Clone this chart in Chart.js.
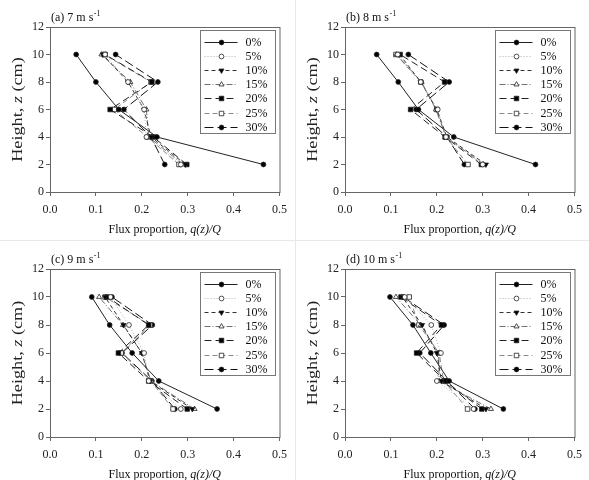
<!DOCTYPE html>
<html>
<head>
<meta charset="utf-8">
<script src="https://cdn.jsdelivr.net/npm/chart.js@4.4.0/dist/chart.umd.min.js"></script>
<style>
  body { margin: 0; background: #fff; }
  #wrap { position: relative; width: 589px; height: 480px; overflow: hidden; }
  .panel { position: absolute; width: 294px; height: 240px; }
  canvas { display: block; }
  .vline { position: absolute; left: 295px; top: 0; width: 1px; height: 480px; background: #e8e8e8; }
  .hline { position: absolute; left: 0; top: 240px; width: 589px; height: 1px; background: #e8e8e8; }
</style>
</head>
<body>
<div id="wrap">
  <div class="panel" style="left:0;top:0"><canvas id="chartA" width="294" height="240"></canvas></div>
  <div class="panel" style="left:295px;top:0"><canvas id="chartB" width="294" height="240"></canvas></div>
  <div class="panel" style="left:0;top:240px"><canvas id="chartC" width="294" height="240"></canvas></div>
  <div class="panel" style="left:295px;top:240px"><canvas id="chartD" width="294" height="240"></canvas></div>
  <div class="vline"></div>
  <div class="hline"></div>
</div>
<script>
'use strict';

// data
let heights = [2, 4, 6, 8, 10];
let seriesLabels = ['0%', '5%', '10%', '15%', '20%', '25%', '30%'];
let xTickLabels = ['0.0', '0.1', '0.2', '0.3', '0.4', '0.5'];
let yTickLabels = ['0', '2', '4', '6', '8', '10', '12'];
let panelLetters = ['(a)', '(b)', '(c)', '(d)'];
let windSpeeds = [7, 8, 9, 10];

// flux proportion q(z)/Q, one row per series, values for z = 2,4,6,8,10
let fluxA = [
  [0.465, 0.233, 0.150, 0.100, 0.057],
  [0.285, 0.210, 0.205, 0.170, 0.120],
  [0.295, 0.220, 0.205, 0.170, 0.115],
  [0.290, 0.215, 0.210, 0.175, 0.112],
  [0.298, 0.225, 0.131, 0.222, 0.120],
  [0.281, 0.212, 0.140, 0.220, 0.118],
  [0.250, 0.220, 0.161, 0.235, 0.143]
];
let fluxB = [
  [0.415, 0.237, 0.160, 0.116, 0.069],
  [0.300, 0.220, 0.202, 0.165, 0.115],
  [0.307, 0.222, 0.200, 0.165, 0.119],
  [0.302, 0.220, 0.198, 0.167, 0.112],
  [0.297, 0.218, 0.143, 0.217, 0.120],
  [0.268, 0.220, 0.200, 0.165, 0.111],
  [0.260, 0.222, 0.155, 0.227, 0.138]
];
let fluxC = [
  [0.364, 0.237, 0.179, 0.130, 0.091],
  [0.285, 0.215, 0.205, 0.172, 0.132],
  [0.310, 0.218, 0.200, 0.160, 0.120],
  [0.315, 0.220, 0.200, 0.159, 0.107],
  [0.299, 0.215, 0.149, 0.215, 0.125],
  [0.268, 0.220, 0.155, 0.218, 0.120],
  [0.272, 0.222, 0.157, 0.223, 0.135]
];
let fluxD = [
  [0.345, 0.227, 0.187, 0.148, 0.098],
  [0.280, 0.200, 0.209, 0.188, 0.130],
  [0.307, 0.210, 0.200, 0.168, 0.125],
  [0.318, 0.205, 0.204, 0.165, 0.111],
  [0.298, 0.218, 0.156, 0.210, 0.122],
  [0.267, 0.215, 0.205, 0.161, 0.140],
  [0.283, 0.222, 0.163, 0.216, 0.127]
];

// styles
let serif = "'Liberation Serif', 'Times New Roman', serif";
let lineColors = ['#222', '#b0b0b0', '#333', '#707070', '#222', '#8a8a8a', '#111'];
let lineDashes = [[], [1, 2], [4, 3], [6, 2, 1, 2], [7, 4], [5, 3], [9, 4]];
let markerStyles = ['circle', 'circle', 'triangle', 'triangle', 'rect', 'rect', 'circle'];
let markerRotation = [0, 0, 180, 0, 0, 0, 0];
let markerFill = ['#000', '#fff', '#000', '#fff', '#000', '#fff', '#000'];
let markerSize = [2.4, 2.4, 2.9, 2.9, 3.2, 3.2, 2.4];

//helper: draw a run of text pieces (some italic) centered at 0,0
function drawMixed(ctx, parts, size) {
  let total = 0;
  for (let p of parts) {
    ctx.font = (p.it ? 'italic ' : '') + size + 'px ' + serif;
    p.w = ctx.measureText(p.t).width;
    total += p.w;
  }
  let x = -total / 2;
  for (let p of parts) {
    ctx.font = (p.it ? 'italic ' : '') + size + 'px ' + serif;
    ctx.fillText(p.t, x, 0);
    x += p.w;
  }
}

let panelDecor = {
  id: 'panelDecor',
  afterDraw(chart, args, opts) {
    let ctx = chart.ctx;
    let a = chart.chartArea;
    ctx.save();
    ctx.setLineDash([]);

    // plot frame
    ctx.strokeStyle = '#666';
    ctx.lineWidth = 1;
    ctx.strokeRect(a.left + 0.5, a.top + 0.5, a.right - a.left, a.bottom - a.top);

    // legend box
    let bx = a.right - 80, by = a.top + 2.5, bw = 75, bh = 103;
    ctx.fillStyle = '#fff';
    ctx.fillRect(bx, by, bw, bh);
    ctx.strokeStyle = '#777';
    ctx.strokeRect(Math.round(bx) + 0.5, Math.round(by) + 0.5, bw, bh);
    chart.data.datasets.forEach((ds, i) => {
      let y = Math.round(by + 12 + i * 14.2) + 0.5;
      ctx.setLineDash(ds.borderDash);
      ctx.strokeStyle = ds.borderColor;
      ctx.beginPath();
      ctx.moveTo(bx + 5, y);
      ctx.lineTo(bx + 38, y);
      ctx.stroke();
      ctx.setLineDash([]);
      ctx.fillStyle = ds.pointBackgroundColor;
      ctx.strokeStyle = '#222';
      ctx.lineWidth = 0.8;
      Chart.helpers.drawPoint(ctx, {
        pointStyle: ds.pointStyle, rotation: ds.pointRotation,
        radius: ds.pointRadius, borderWidth: 0.8
      }, bx + 22, y);
      ctx.lineWidth = 1;
      ctx.fillStyle = '#111';
      ctx.font = '12px ' + serif;
      ctx.textAlign = 'left';
      ctx.textBaseline = 'middle';
      ctx.fillText(ds.label, bx + 46, y);
    });

    // panel label with superscript
    ctx.fillStyle = '#111';
    ctx.textAlign = 'left';
    ctx.textBaseline = 'middle';
    ctx.font = '12px ' + serif;
    let lab = opts.letter + ' ' + opts.speed + ' m s';
    let ly = a.top - 9.5;
    ctx.fillText(lab, a.left + 1, ly);
    let lw = ctx.measureText(lab).width;
    ctx.font = '8px ' + serif;
    ctx.fillText('-1', a.left + 1 + lw + 0.5, ly - 4);

    // x axis title
    ctx.save();
    ctx.translate((a.left + a.right) / 2, a.bottom + 37.5);
    drawMixed(ctx, [{ t: 'Flux proportion, ' }, { t: 'q(z)/Q', it: true }], 12);
    ctx.restore();

    // y axis title, stretched along its length like the original
    ctx.save();
    ctx.fillStyle = '#222';
    ctx.translate(18, (a.top + a.bottom) / 2);
    ctx.rotate(-Math.PI / 2);
    ctx.scale(1.3, 1);
    drawMixed(ctx, [{ t: 'Height, ' }, { t: 'z', it: true }, { t: ' (cm)' }], 14);
    ctx.restore();

    ctx.restore();
  }
};

function makePanel(canvasId, flux, idx, padTop, axisH) {
  let datasets = [];
  for (let i = 0; i < seriesLabels.length; i++) {
    let pts = [];
    for (let j = 0; j < heights.length; j++) {
      pts.push({ x: flux[i][j], y: heights[j] });
    }
    datasets.push({
      label: seriesLabels[i],
      data: pts,
      showLine: true,
      borderColor: lineColors[i],
      borderWidth: 1,
      borderDash: lineDashes[i],
      pointStyle: markerStyles[i],
      pointRotation: markerRotation[i],
      pointRadius: markerSize[i],
      pointBackgroundColor: markerFill[i],
      pointBorderColor: '#222',
      pointBorderWidth: 0.8
    });
  }

  return new Chart(document.getElementById(canvasId), {
    type: 'scatter',
    data: { datasets: datasets },
    options: {
      responsive: false,
      animation: false,
      layout: { padding: { top: padTop, right: 11, left: 0, bottom: 0 } },
      plugins: {
        legend: { display: false },
        tooltip: { enabled: false },
        panelDecor: { letter: panelLetters[idx], speed: windSpeeds[idx] }
      },
      scales: {
        x: {
          type: 'linear', min: 0, max: 0.5,
          ticks: {
            stepSize: 0.1, autoSkip: false, maxRotation: 0, padding: 7,
            color: '#222', font: { family: serif, size: 12 },
            callback: (v, i) => xTickLabels[i]
          },
          grid: { drawOnChartArea: false, drawTicks: true, tickLength: 4, color: '#666' },
          border: { display: false },
          afterFit: s => { s.height = axisH; }
        },
        y: {
          type: 'linear', min: 0, max: 12,
          ticks: {
            stepSize: 2, autoSkip: false, padding: 2,
            color: '#222', font: { family: serif, size: 12 },
            callback: (v, i) => yTickLabels[i]
          },
          grid: { drawOnChartArea: false, drawTicks: true, tickLength: 4, color: '#666' },
          border: { display: false },
          afterFit: s => { s.width = 50; }
        }
      }
    },
    plugins: [panelDecor]
  });
}

makePanel('chartA', fluxA, 0, 27, 48);
makePanel('chartB', fluxB, 1, 27, 48);
makePanel('chartC', fluxC, 2, 29, 43);
makePanel('chartD', fluxD, 3, 29, 43);
</script>
</body>
</html>
